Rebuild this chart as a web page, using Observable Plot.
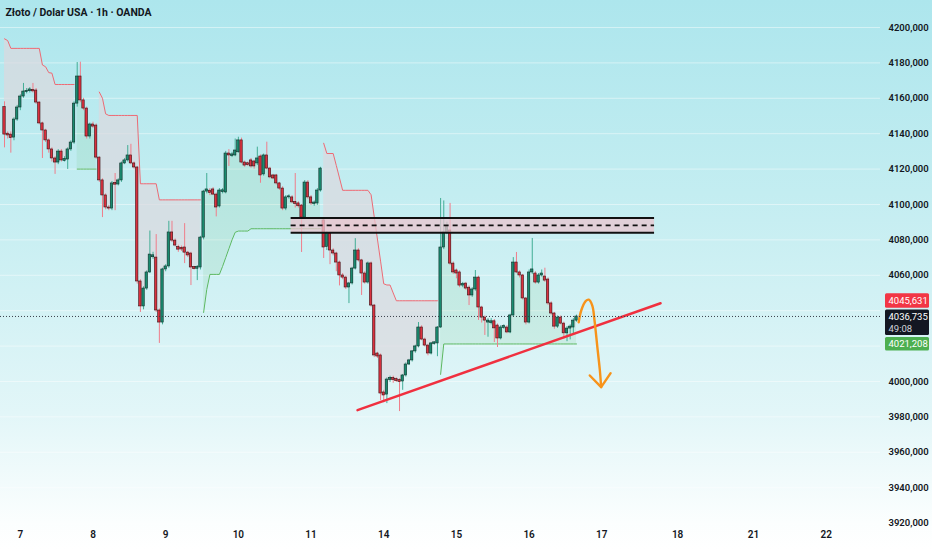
<!DOCTYPE html>
<html><head><meta charset="utf-8">
<script src="https://cdn.jsdelivr.net/npm/d3@7"></script>
<script src="https://cdn.jsdelivr.net/npm/@observablehq/plot@0.6"></script>
<style>body{margin:0;background:#fff;} #chart{width:932px;height:550px;}</style>
</head><body><div id="chart"></div>
<script>
const title = "Złoto / Dolar USA · 1h · OANDA";

const open = [4155,4140,4139.5,4137.8,4148,4154.8,4161,4163.5,4164,4164.5,
4164.4,4157.6,4145.8,4141.8,4136.2,4131.1,4126,4123.7,4129.9,4124.9,
4125.4,4131.1,4135,4157,4172.3,4158.8,4154.2,4138.4,4145.2,4144.6,
4126.5,4113.6,4105.1,4098.3,4097.7,4111.9,4111.3,4113.6,4123.2,4124.9,
4127.7,4123.2,4120.9,4056.5,4042.4,4052.5,4061.6,4070.5,4070,4040.1,
4033.3,4063.3,4065,4084.2,4079.6,4076,4075.5,4075.7,4072.8,4072.3,
4064.4,4064,4064.4,4081.3,4107.3,4107.8,4108.5,4105.6,4098.9,4107,
4106.8,4128.8,4127.7,4127.7,4129.5,4136.2,4123.7,4123,4124.9,4124.3,
4123.2,4127.1,4117,4127.7,4120.3,4116.4,4116.4,4111.9,4109,4097.7,
4104,4104,4101.2,4100.6,4099.4,4092.6,4112.4,4104,4100.6,4100.6,
4107.9,4091,4076,4083.6,4074,4072.3,4067.2,4059.9,4058.7,4053.1,
4055.4,4063.8,4074,4068.4,4061,4055.9,4066.7,4042.9,4015.8,4014.7,
3993.8,3992.6,4001.1,4001.7,4001.1,4000.5,4000,4003.4,4009.6,4011.9,
4017,4019.8,4030.5,4023.7,4020.3,4015.8,4021.5,4021.5,4030.5,4075.7,
4084.2,4085.3,4066.6,4062.7,4061.6,4054.2,4055.3,4053,4048.6,4052,
4058.7,4041.8,4036.1,4033.3,4033,4034,4031.6,4024.3,4030.5,4030.5,
4027.7,4037.3,4067.2,4061.6,4059.9,4046.9,4033.3,4061.6,4061,4055.9,
4059.9,4059.3,4057.6,4044.1,4038.4,4031,4036.1,4032.7,4027.2,4029.9,
4030.5,4034.4];

const close = [4139.5,4139,4137.5,4148,4154.8,4161,4163.8,4164.2,4165,4164.2,
4157.6,4145.8,4141.8,4136.2,4131.1,4126,4123.7,4129.9,4124.9,4125.4,
4131.1,4135,4157,4172.3,4158.8,4154.2,4138.4,4145.2,4144,4126.5,
4113.6,4105.1,4098.3,4097.7,4111.9,4111.5,4113.6,4123.2,4124.9,4127.7,
4123.2,4120.9,4056.5,4042.4,4052.5,4061.6,4071.7,4071,4040.1,4033.3,
4063.3,4065,4084.2,4079.6,4076.8,4074.5,4074.6,4072.8,4071.2,4064.4,
4063.8,4064.4,4081.3,4107.3,4108.5,4106.5,4105.6,4098.3,4107.9,4108,
4128.8,4127.7,4128,4130.5,4136.2,4123.7,4122,4122.5,4121.5,4121.5,
4126,4116.4,4127.7,4120.3,4115.3,4114.7,4111.9,4109,4097.7,4104,
4104.6,4101.2,4100.6,4099,4092.6,4112.4,4104,4100.6,4100.8,4107.9,
4120.3,4075.7,4083.6,4074,4072.3,4067.2,4059.9,4058.7,4053.1,4055.4,
4063.8,4074,4068.4,4061,4055.9,4066.7,4042.9,4014.7,4014.1,3993.2,
3992.1,4001.1,4001.7,4001.1,4000.5,4000,4003.4,4009.6,4011.9,4017,
4019.8,4030.5,4023.7,4020.3,4015.8,4021.5,4021.8,4030.5,4075.7,4084.2,
4087.5,4066.6,4061.6,4061,4054.2,4055,4052.5,4048.6,4052,4058.7,
4041.8,4036.1,4034.4,4034.4,4034,4030,4024.3,4030.5,4031,4027.7,
4037.3,4067.2,4061.6,4059.9,4046.9,4033.3,4061.6,4063.3,4055.9,4059.9,
4061,4057,4044.1,4038.4,4031,4036.1,4032.7,4027.2,4029.9,4031,
4034.4,4036.7];

const high = [4158,4141,4141,4149,4156,4162,4168.4,4165.5,4166,4168.4,
4165.5,4158,4146.5,4142.5,4137,4132,4127,4131,4131,4127,
4132,4136,4158,4180.2,4180.4,4160,4155,4146,4146.5,4145.5,
4127,4114.5,4106,4099.5,4113,4117.5,4114.5,4124,4126,4133.3,
4134,4124,4121.5,4057.5,4053.5,4062.5,4085,4073,4083,4041,
4064,4066,4090.5,4090.5,4080.5,4077,4076.5,4089.2,4073.5,4073,
4065,4065.5,4082,4108,4117.5,4109,4109.5,4106.5,4109,4109,
4130,4131,4129.5,4137,4138,4137.5,4124.5,4124,4126,4125,
4132.4,4128,4128.5,4135.2,4121,4117,4117,4112.5,4110,4105,
4105.5,4105,4117.5,4101.5,4100,4113.5,4113.5,4105,4102,4109,
4121,4092.5,4084.5,4084.5,4075,4073,4068,4061,4059.5,4056,
4064.5,4080.7,4075,4069,4062,4067.5,4067.5,4043.5,4016.5,4015.5,
3995,4002,4003,4003,4002,4001.5,4004,4010.5,4012.5,4017.5,
4020.5,4033.3,4031.5,4024.5,4021,4022,4022.5,4031,4103.4,4102,
4090,4100.6,4067.5,4063.5,4062.5,4056,4056,4054,4053,4062.7,
4059.5,4042.5,4037,4035.5,4035.5,4035,4032.5,4031.5,4032,4031.5,
4038,4070,4072.9,4062.5,4060.5,4047.5,4063,4080.8,4062,4061,
4063,4064,4058.5,4045,4039,4037,4037,4033.5,4031,4032,
4035.5,4037.5];

const low = [4132,4137,4129,4136,4147,4153,4160,4162.5,4163,4163,
4156.5,4145,4126,4135,4129,4124,4117,4122.5,4124,4124,
4119.8,4130,4134,4155,4157.5,4153,4137,4137,4143,4125.5,
4112.5,4092.6,4097,4096.5,4096.5,4096.5,4110.5,4112.5,4122.5,4124,
4122.5,4120,4055,4039,4040.5,4051.5,4061,4069,4039,4021.5,
4032,4062,4064,4078.5,4076,4073,4073.5,4066.6,4070,4054.2,
4063,4057,4063,4080,4106,4105,4105,4093,4098,4106,
4106,4121.5,4126.5,4127,4129,4123,4121,4121.5,4120.5,4120,
4122,4112,4116,4119.5,4114.5,4114,4111,4108,4096.5,4096.5,
4103,4100.5,4098,4098,4072.9,4091.5,4103,4099.5,4099,4099.5,
4107,4069.5,4074,4066,4071,4062,4054,4057.5,4052,4044,
4054.5,4063,4067.5,4048.6,4055,4055,4042,4013.5,4013,3989.2,
3988,3987.5,3999.5,3999,3999.5,3983,3995,4002.5,4009,4011,
4016,4019,4023,4019.5,4014.5,4015,4020.5,4014,4030,4074.5,
4083,4065.5,4060.5,4058,4053,4053,4051.5,4042.9,4047.5,4051,
4034.5,4033,4026,4025,4032,4022,4019.2,4023.5,4029.5,4027,
4027,4036.5,4061,4058.5,4046,4032,4032.5,4060.5,4055,4055,
4059,4056,4043,4037.5,4029.5,4030,4032,4024,4022.5,4023.5,
4026,4033.5];

// Supertrend bands (start candle index + values)
const redBandStart = [0, 30, 101];
const redBandValues = [
  [4193.6,4192.6,4188.2,4188.2,4188.2,4188.2,4188.2,4188.2,4188.2,4188.2,4188.2,4188.2,4178.8,4177.8,4174.5,4174.2,4167.8,4167.8,4167.8,4167.8,4167.8,4167.8,4167.8],
  [4163.5,4160,4151.2,4150.3,4150.3,4150.3,4150.3,4150.3,4150.3,4150.3,4150.3,4150.3,4150.3,4111.7,4111.7,4111.7,4111.7,4111.7,4111.7,4102.6,4102.6,4102.6,4102.6,4102.6,4102.6,4102.6,4102.6,4102.6,4102.6,4102.6,4102.6,4102.6,4102.6],
  [4134.6,4128.8,4128.8,4128.8,4122,4115,4108,4108,4108,4108,4108,4108,4108,4108,4108,4105.5,4093,4080.5,4068,4055.2,4054.5,4054.5,4050,4045.6,4045.6,4045.6,4045.6,4045.6,4045.6,4045.6,4045.6,4045.6,4045.6,4045.6,4045.6,4045.6,4045.6]
];
const greenBandStart = [23, 63, 138];
const greenBandValues = [
  [4120,4120,4120,4120,4120,4120,4120],
  [4039,4052,4060.5,4060.5,4060.5,4060.5,4065,4070,4075,4080,4084.3,4085,4085,4085,4085,4086.3,4086.3,4086.3,4086.3,4086.3,4086.3,4086.3,4086.3,4086.3,4086.3,4086.3,4086.3,4086.3,4086.3,4086.3,4086.3,4086.3,4086.3,4086.3,4086.3,4086.3,4086.3,4086.3],
  [4004,4021.2,4021.2,4021.2,4021.2,4021.2,4021.2,4021.2,4021.2,4021.2,4021.2,4021.2,4021.2,4021.2,4021.2,4021.2,4021.2,4021.2,4021.2,4021.2,4021.2,4021.2,4021.2,4021.2,4021.2,4021.2,4021.2,4021.2,4021.2,4021.2,4021.2,4021.2,4021.2,4021.2,4021.2,4021.2,4021.2,4021.2,4021.2,4021.2,4021.2,4021.2,4021.2,4021.2]
];

const dayTickPos = [5, 28, 51, 74, 97, 120, 143, 166, 189, 213, 237, 260];
const dayTickLabels = ["7","8","9","10","11","14","15","16","17","18","21","22"];
const priceTicks = [3920,3940,3960,3980,4000,4060,4080,4100,4120,4140,4160,4180,4200];
const gridTicks = [3920,3940,3960,3980,4000,4020,4040,4060,4080,4100,4120,4140,4160,4180,4200];

// annotations
const zoneX = [90.7, 205.7];
const zoneY = [4084.0, 4092.3];
const zoneMid = 4088.2;
const trendI = [111.7, 207.6];
const trendV = [3983.8, 4044.2];
const arrowI = [181.7, 182.5, 183.9, 184.9, 186.0, 186.7, 187.6, 188.4, 188.8];
const arrowV = [4033.5, 4040.1, 4045.4, 4046.2, 4042.9, 4034.5, 4019.4, 4006.2, 3996.8];
const headI = [185.2, 188.8, 191.8];
const headV = [4003.4, 3996.8, 4004.7];

const lastPrice = 4036.735, countdown = "49:08";
const upperLevel = 4045.631, lowerLevel = 4021.208;
const fmt = v => v.toFixed(3).replace(".", ",");

const axisFont = "Roboto, 'Noto Sans', sans-serif";

// build tables
const candles = open.map((o, i) => {
  const c = close[i];
  const lo = Math.min(o, c), hi = Math.max(o, c);
  const thin = hi - lo < 0.6;
  return {i, o, c, h: high[i], l: low[i], mid: (o + c) / 2,
    b1: thin ? lo - 0.3 : lo, b2: thin ? hi + 0.3 : hi, up: c >= o};
});
const bandRows = (starts, values, kind) => starts.flatMap((s, k) =>
  values[k].map((v, j) => ({i: s + j, band: v, mid: candles[s + j].mid, seg: kind + k})));
const redRows = bandRows(redBandStart, redBandValues, "r");
const greenRows = bandRows(greenBandStart, greenBandValues, "g");
const upC = candles.filter(d => d.up), dnC = candles.filter(d => !d.up);
const trend = trendI.map((i, k) => ({i, v: trendV[k]}));
const arrow = arrowI.map((i, k) => ({i, v: arrowV[k]}));
const head = headI.map((i, k) => ({i, v: headV[k]}));
const labelLevels = [upperLevel, lastPrice, lowerLevel];

const chart = Plot.plot({
  width: 932, height: 550,
  marginLeft: 0, marginRight: 52, marginTop: 0, marginBottom: 26,
  x: {type: "linear", domain: [-1.27, 277.2], axis: null, label: null},
  y: {domain: [3919.2, 4215.25], axis: null, label: null},
  style: {background: "linear-gradient(180deg, #ade6ed 0%, #c3edf1 35%, #e2f6f8 75%, #fbfefe 95%, #ffffff 100%)",
          fontFamily: "Roboto, 'Noto Sans', sans-serif", overflow: "visible"},
  marks: [
    Plot.ruleY(gridTicks, {stroke: "#ffffff", strokeOpacity: 0.45}),
    Plot.areaY(redRows, {x: "i", y1: "band", y2: "mid", z: "seg", fill: "#dcd8de", fillOpacity: 0.7}),
    Plot.areaY(greenRows, {x: "i", y1: "band", y2: "mid", z: "seg", fill: "#4caf50", fillOpacity: 0.1}),
    Plot.line(redRows, {x: "i", y: "band", z: "seg", stroke: "#ee6a74", strokeWidth: 1}),
    Plot.line(greenRows, {x: "i", y: "band", z: "seg", stroke: "#5cb860", strokeWidth: 1}),
    Plot.ruleX(upC, {x: "i", y1: "l", y2: "h", stroke: "#42ad95", strokeWidth: 1}),
    Plot.ruleX(dnC, {x: "i", y1: "l", y2: "h", stroke: "#ef7d8a", strokeWidth: 1}),
    Plot.rect(upC, {x1: d => d.i - 0.38, x2: d => d.i + 0.38, y1: "b1", y2: "b2", fill: "#1a8a6f", stroke: "#0e2f28", strokeWidth: 0.6}),
    Plot.rect(dnC, {x1: d => d.i - 0.38, x2: d => d.i + 0.38, y1: "b1", y2: "b2", fill: "#d9323f", stroke: "#3a1014", strokeWidth: 0.6}),
    Plot.rect([0], {x1: zoneX[0], x2: zoneX[1], y1: zoneY[0], y2: zoneY[1], fill: "#e9c6cf", fillOpacity: 0.75}),
    Plot.ruleY(zoneY, {x1: zoneX[0], x2: zoneX[1], stroke: "#111", strokeWidth: 2}),
    Plot.ruleY([zoneMid], {x1: zoneX[0], x2: zoneX[1], stroke: "#111", strokeWidth: 1.6, strokeDasharray: "5,4"}),
    Plot.line(trend, {x: "i", y: "v", stroke: "#f0303f", strokeWidth: 2.4}),
    Plot.line(arrow, {x: "i", y: "v", stroke: "#f7931a", strokeWidth: 2.4, curve: "catmull-rom"}),
    Plot.line(head, {x: "i", y: "v", stroke: "#f7931a", strokeWidth: 2.4}),
    Plot.ruleY([lastPrice], {stroke: "#3a3f4a", strokeWidth: 1, strokeDasharray: "1,2"}),
    Plot.text([title], {frameAnchor: "top-left", dx: 5, dy: 8, lineAnchor: "top", textAnchor: "start",
      fontSize: 10.5, fontWeight: 700, fill: "#131722"}),
    Plot.axisY(priceTicks, {anchor: "right", tickSize: 0, tickPadding: 8, tickFormat: d => `${d},000`,
      fontSize: 9.5, fontWeight: 600, fill: "#131722", fontFamily: axisFont, label: null}),
    Plot.axisX(dayTickPos, {anchor: "bottom", tickSize: 0, tickPadding: 6,
      tickFormat: (d, k) => dayTickLabels[k], fontSize: 10, fontWeight: 600, fill: "#131722", fontFamily: axisFont, label: null}),
    Plot.text(labelLevels, {y: d => d, text: d => fmt(d), frameAnchor: "right",
      dx: 8, textAnchor: "start", fontSize: 9.5, fill: "#ffffff", fontFamily: axisFont}),
    Plot.text([lastPrice], {y: d => d, text: () => countdown, frameAnchor: "right",
      dx: 8, dy: 12.5, textAnchor: "start", fontSize: 9.5, fill: "#d1d4dc", fontFamily: axisFont})
  ]
});
document.getElementById("chart").append(chart);

// label boxes behind the price labels, positioned with Plot's own y scale
const ys = chart.scale("y");
const boxes = [
  {v: upperLevel, bg: "#f23645", top: -7, bottom: 7.5},
  {v: lastPrice, bg: "#131722", top: -6.5, bottom: 19},
  {v: lowerLevel, bg: "#4caf50", top: -6.5, bottom: 7}
];
const svg = d3.select(chart);
svg.append("g").selectAll("rect").data(boxes).join("rect")
  .attr("x", 885).attr("width", 44)
  .attr("y", d => ys.apply(d.v) + d.top)
  .attr("height", d => d.bottom - d.top)
  .attr("rx", 1.5)
  .attr("fill", d => d.bg);
// bring the label texts back above the boxes
const labelTexts = new Set([...labelLevels.map(fmt), countdown]);
const groups = new Set();
svg.selectAll("text").each(function() { if (labelTexts.has(this.textContent)) groups.add(this.parentNode); });
groups.forEach(g => g.parentNode.appendChild(g));
</script></body></html>
